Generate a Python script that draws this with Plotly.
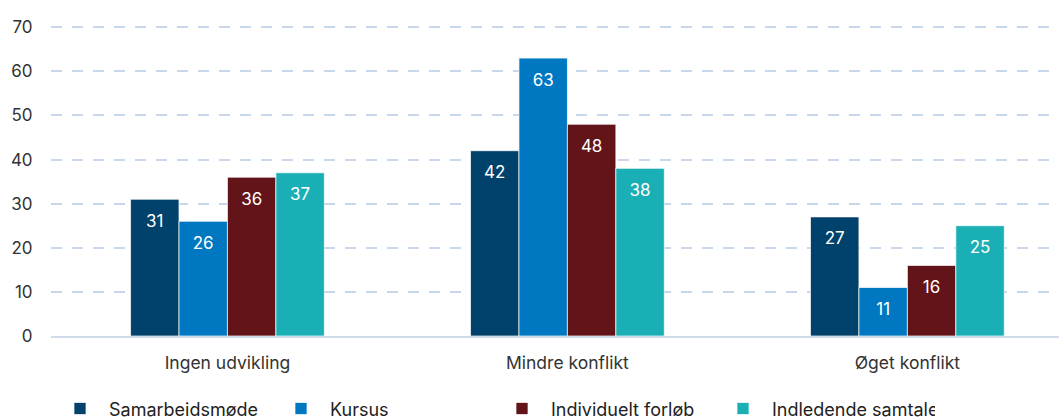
import plotly.graph_objects as go

categories = ["Ingen udvikling", "Mindre konflikt", "Øget konflikt"]
series_names = ["Samarbeidsmøde", "Kursus", "Individuelt forløb", "Indledende samtale"]
samarbeidsmode = [31, 42, 27]
kursus = [26, 63, 11]
individuelt = [36, 48, 16]
indledende = [37, 38, 25]
y_ticks = [0, 10, 20, 30, 40, 50, 60, 70]

values = [samarbeidsmode, kursus, individuelt, indledende]
colors = ["#00426b", "#0078c1", "#621418", "#1aafb5"]

FONT = "Inter, Roboto, sans-serif"

fig = go.Figure()
for name, vals, col in zip(series_names, values, colors):
    fig.add_trace(go.Bar(
        x=categories, y=vals, name=name,
        marker=dict(color=col, line=dict(color="rgba(255,255,255,0.7)", width=1)),
        hoverinfo="skip",
    ))
for name, vals, col in zip(series_names, values, colors):
    fig.add_trace(go.Scatter(
        x=categories, y=vals, mode="markers+text",
        text=[str(v) for v in vals], textposition="bottom center",
        textfont=dict(color="white", size=17, family=FONT),
        marker=dict(size=22, opacity=0, color=col),
        showlegend=False, hoverinfo="skip",
    ))

fig.update_layout(
    width=1059, height=417,
    margin=dict(l=51, r=0, t=25, b=81),
    paper_bgcolor="white", plot_bgcolor="white",
    barmode="group", bargap=0.43, bargroupgap=0,
    scattermode="group",
    font=dict(family=FONT, size=17, color="#333333"),
    showlegend=True,
    legend=dict(orientation="h", x=0.0, xref="paper", y=0.064, yref="container",
                xanchor="left", yanchor="top",
                font=dict(size=18, color="#222222"), itemwidth=48,
                entrywidth=158, entrywidthmode="pixels",
                traceorder="normal"),
)
fig.update_xaxes(
    range=[-0.519, 2.446], showgrid=False, zeroline=False,
    showline=True, linecolor="#d0dcec", linewidth=2,
    ticks="outside", ticklen=10, tickcolor="rgba(0,0,0,0)",
    tickfont=dict(size=17.5, color="#333333"),
)
fig.update_yaxes(
    range=[0, 70.5], tickvals=y_ticks, showgrid=True,
    gridcolor="#c8d7ea", griddash="11px,10px", gridwidth=1.5,
    zeroline=False, showline=False,
    ticks="outside", ticklen=14, tickcolor="rgba(0,0,0,0)",
    tickfont=dict(size=17, color="#333333"),
)

fig.write_html("out.html")
